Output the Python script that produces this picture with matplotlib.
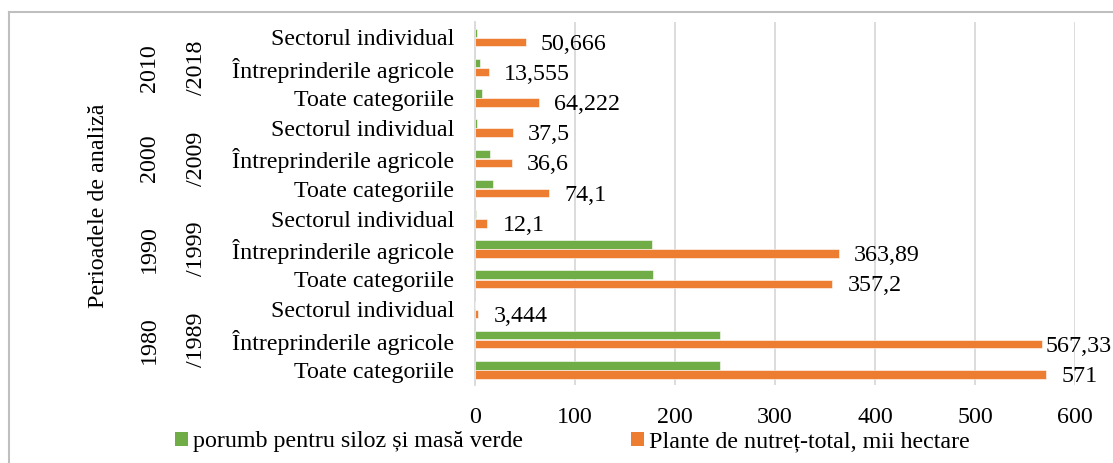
import matplotlib
matplotlib.use("Agg")
import matplotlib.pyplot as plt
from matplotlib.patches import Patch
from matplotlib.lines import Line2D
import numpy as np

# ---- data ----
categories = ["Toate categoriile", "Întreprinderile agricole", "Sectorul individual"] * 4
periods_top = ["1980", "1990", "2000", "2010"]
periods_bottom = ["/1989", "/1999", "/2009", "/2018"]
porumb = [245, 245, 0, 177.5, 177, 0.8, 18, 15.4, 2, 6.7, 5, 2]
plante = [571, 567.33, 3.444, 357.2, 363.89, 12.1, 74.1, 36.6, 37.5, 64.222, 13.555, 50.666]
plante_labels = ["571", "567,33", "3,444", "357,2", "363,89", "12,1",
                 "74,1", "36,6", "37,5", "64,222", "13,555", "50,666"]
x_ticks = [0, 100, 200, 300, 400, 500, 600]
series_names = ["porumb pentru siloz și masă verde", "Plante de nutreț-total, mii hectare"]
axis_title = "Perioadele de analiză"

GREEN = "#70AD47"
ORANGE = "#ED7D31"
GRID = "#D9D9D9"
FONT = "Liberation Serif"
FS = 17.3

plt.rcParams["font.family"] = [FONT, "DejaVu Serif"]

W, H = 1113, 463
fig = plt.figure(figsize=(W / 100, H / 100), dpi=100)
ax = fig.add_axes([475 / W, 1 - 385 / H, (1075 - 475) / W, (385 - 22.3) / H])

n = len(categories)
y = np.arange(n)
bh = 0.28
off = 0.15
ax.barh(y + off, porumb, height=bh, color=GREEN, edgecolor="white", linewidth=0.4, zorder=3)
ax.barh(y - off, plante, height=bh, color=ORANGE, edgecolor="white", linewidth=0.4, zorder=3)

ax.set_xlim(0, 600)
ax.set_ylim(-0.5, n - 0.5)
ax.set_xticks(x_ticks)
ax.set_xticklabels([str(v) for v in x_ticks], fontsize=FS)
ax.set_yticks(y)
ax.set_yticklabels(categories, fontsize=FS)
ax.tick_params(axis="both", length=0)
ax.tick_params(axis="y", pad=15)
ax.tick_params(axis="x", pad=15.5)
ax.grid(axis="x", color=GRID, linewidth=1.3, zorder=0)
for s in ["top", "right", "bottom"]:
    ax.spines[s].set_visible(False)
ax.spines["left"].set_color(GRID)
ax.spines["left"].set_linewidth(1.3)

# data labels
fig.canvas.draw()
renderer = fig.canvas.get_renderer()
for yi, val, lab in zip(y, plante, plante_labels):
    t = ax.annotate(lab, xy=(val, yi - off), xytext=(11, -1.5), textcoords="offset points",
                    ha="left", va="center", fontsize=FS, annotation_clip=False)
    bb = t.get_window_extent(renderer)
    if bb.x1 > W - 1:
        shift = (bb.x1 - (W - 1)) * 72 / 100
        t.set_position((11 - shift, -1.5))

# period labels (two rotated lines)
trans = matplotlib.transforms.blended_transform_factory(fig.transFigure, ax.transData)
for g in range(4):
    yc = 3 * g + 1
    ax.text(149 / W, yc, periods_top[g], transform=trans, rotation=90,
            ha="center", va="center", fontsize=FS)
    ax.text(196 / W, yc, periods_bottom[g], transform=trans, rotation=90,
            ha="center", va="center", fontsize=FS)

fig.text(99 / W, 1 - 206 / H, axis_title, rotation=90, ha="center", va="center", fontsize=FS)

# legend
handles = [Patch(facecolor=GREEN), Patch(facecolor=ORANGE)]
fig.legend(handles, series_names, loc="center", bbox_to_anchor=(572.5 / W, 1 - 442 / H),
           ncol=2, frameon=False, fontsize=FS, handlelength=0.55, handleheight=0.55,
           handletextpad=0.2, columnspacing=4.5, borderpad=0, borderaxespad=0)

# chart border (top and left visible)
fig.add_artist(Line2D([9 / W, 1.0], [1 - 12.3 / H] * 2, transform=fig.transFigure,
                      color="#BFBFBF", linewidth=1.5))
fig.add_artist(Line2D([9 / W, 9 / W], [0, 1 - 12.3 / H], transform=fig.transFigure,
                      color="#BFBFBF", linewidth=1.5))

fig.savefig("out.png", dpi=100, facecolor="white")
